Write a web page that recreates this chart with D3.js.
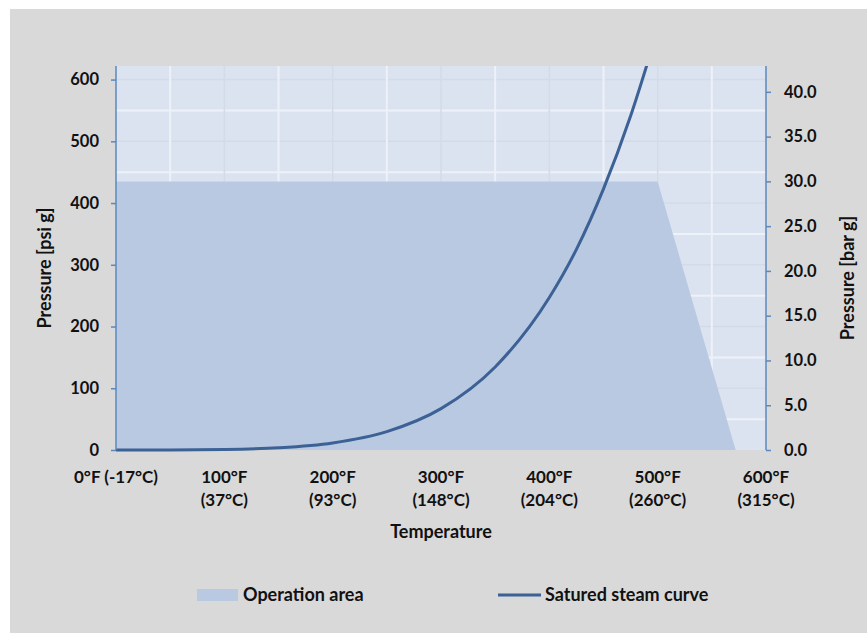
<!DOCTYPE html>
<html>
<head>
<meta charset="utf-8">
<script src="https://cdn.jsdelivr.net/npm/d3@7"></script>
<style>
  html, body { margin: 0; padding: 0; background: #fff; }
  text { font-family: Lato, "Open Sans", sans-serif; font-weight: bold; fill: #111; }
</style>
</head>
<body>
<svg id="chart" width="867" height="633"></svg>
<script>
(function () {
  // saturated steam curve
  const steamTempF = [0, 50, 100, 150, 200, 250, 300, 350, 400, 425, 450, 475, 500];
  const steamPsi = [0, 0.2, 0.95, 3.7, 11.5, 29.8, 67, 134.5, 247, 325, 423, 541, 681];

  // operation area outline
  const opTempF = [0, 0, 500, 572];
  const opPsi = [0, 435, 435, 0];

  const xTicks = [0, 100, 200, 300, 400, 500, 600];
  const xTickLabels = [['0°F (-17°C)'], ['100°F', '(37°C)'], ['200°F', '(93°C)'], ['300°F', '(148°C)'],
    ['400°F', '(204°C)'], ['500°F', '(260°C)'], ['600°F', '(315°C)']];
  const psiTicks = [0, 100, 200, 300, 400, 500, 600];
  const barTicks = [0, 5, 10, 15, 20, 25, 30, 35, 40];

  const plot = { left: 116, right: 766, top: 66, bottom: 450 };
  const psiMax = 622;
  const psiPerBar = 14.5038;

  const svg = d3.select('#chart');

  svg.append('rect')
    .attr('x', 10).attr('y', 9)
    .attr('width', 857).attr('height', 624)
    .attr('fill', '#d9d9d9');

  const xScale = d3.scaleLinear().domain([0, 600]).range([plot.left, plot.right]);
  const yPsi = d3.scaleLinear().domain([0, psiMax]).range([plot.bottom, plot.top]);
  const yBar = d3.scaleLinear().domain([0, psiMax / psiPerBar]).range([plot.bottom, plot.top]);

  svg.append('defs').append('clipPath').attr('id', 'plotclip')
    .append('rect')
    .attr('x', plot.left).attr('y', plot.top)
    .attr('width', plot.right - plot.left).attr('height', plot.bottom - plot.top + 3);

  // plot background
  svg.append('rect')
    .attr('x', plot.left).attr('y', plot.top)
    .attr('width', plot.right - plot.left).attr('height', plot.bottom - plot.top)
    .attr('fill', '#dce3f0');

  const grid = svg.append('g');
  const psiMinor = d3.range(50, psiMax, 100);
  const psiMajor = d3.range(100, psiMax, 100);
  const tMinor = d3.range(50, 600, 100);
  const tMajor = d3.range(100, 600, 100);

  grid.selectAll('.hminor').data(psiMinor).enter().append('line')
    .attr('x1', plot.left).attr('x2', plot.right)
    .attr('y1', d => yPsi(d)).attr('y2', d => yPsi(d))
    .attr('stroke', '#edf1f8').attr('stroke-width', 2);
  grid.selectAll('.hmajor').data(psiMajor).enter().append('line')
    .attr('x1', plot.left).attr('x2', plot.right)
    .attr('y1', d => yPsi(d)).attr('y2', d => yPsi(d))
    .attr('stroke', '#d4dbe8').attr('stroke-width', 1.5);
  grid.selectAll('.vminor').data(tMinor).enter().append('line')
    .attr('y1', plot.top).attr('y2', plot.bottom)
    .attr('x1', d => xScale(d)).attr('x2', d => xScale(d))
    .attr('stroke', '#edf1f8').attr('stroke-width', 2);
  grid.selectAll('.vmajor').data(tMajor).enter().append('line')
    .attr('y1', plot.top).attr('y2', plot.bottom)
    .attr('x1', d => xScale(d)).attr('x2', d => xScale(d))
    .attr('stroke', '#d4dbe8').attr('stroke-width', 1.5);

  // operation area
  const opPoints = opTempF.map((t, i) => [xScale(t), yPsi(opPsi[i])]);
  svg.append('path')
    .attr('d', d3.line()(opPoints) + 'Z')
    .attr('fill', '#bac9e2');

  // steam curve
  const steamLine = d3.line()
    .x(d => xScale(d[0]))
    .y(d => yPsi(d[1]))
    .curve(d3.curveMonotoneX);
  svg.append('path')
    .datum(steamTempF.map((t, i) => [t, steamPsi[i]]))
    .attr('clip-path', 'url(#plotclip)')
    .attr('d', steamLine)
    .attr('fill', 'none')
    .attr('stroke', '#3b6195')
    .attr('stroke-width', 3);

  // axes
  const yAxisL = d3.axisLeft(yPsi).tickValues(psiTicks).tickSize(5).tickPadding(12);
  const gL = svg.append('g').attr('transform', `translate(${plot.left},0)`).call(yAxisL);
  gL.select('.domain').attr('d', `M0,${plot.top}V${plot.bottom}`);

  const yAxisR = d3.axisRight(yBar).tickValues(barTicks).tickSize(5).tickPadding(13)
    .tickFormat(d3.format('.1f'));
  const gR = svg.append('g').attr('transform', `translate(${plot.right},0)`).call(yAxisR);
  gR.select('.domain').attr('d', `M0,${plot.top}V${plot.bottom}`);

  [gL, gR].forEach(g => {
    g.select('.domain').attr('stroke', '#5b88bd').attr('stroke-width', 1.5);
    g.selectAll('.tick line').attr('stroke', '#5b88bd').attr('stroke-width', 1.5);
    g.selectAll('.tick text')
      .attr('font-family', 'Lato, sans-serif')
      .attr('font-weight', 'bold')
      .attr('font-size', 16.5)
      .attr('fill', '#111');
  });

  // x tick labels
  const xl = svg.append('g');
  xTicks.forEach((t, i) => {
    const txt = xl.append('text')
      .attr('x', xScale(t))
      .attr('y', 483)
      .attr('text-anchor', 'middle')
      .attr('font-size', 17);
    xTickLabels[i].forEach((s, j) => {
      txt.append('tspan').attr('x', xScale(t)).attr('dy', j === 0 ? 0 : 23).text(s);
    });
  });

  // titles
  svg.append('text')
    .attr('x', (plot.left + plot.right) / 2)
    .attr('y', 538)
    .attr('text-anchor', 'middle')
    .attr('font-size', 18)
    .text('Temperature');

  svg.append('text')
    .attr('transform', 'translate(51,268) rotate(-90)')
    .attr('text-anchor', 'middle')
    .attr('font-size', 18)
    .text('Pressure [psi g]');

  svg.append('text')
    .attr('transform', 'translate(854,278) rotate(-90)')
    .attr('text-anchor', 'middle')
    .attr('font-size', 18)
    .text('Pressure [bar g]');

  // legend
  const legend = svg.append('g');
  legend.append('rect')
    .attr('x', 197).attr('y', 589).attr('width', 41).attr('height', 12)
    .attr('fill', '#bac9e2');
  legend.append('text')
    .attr('x', 243).attr('y', 601)
    .attr('font-size', 18)
    .text('Operation area');
  legend.append('line')
    .attr('x1', 498).attr('x2', 541).attr('y1', 595).attr('y2', 595)
    .attr('stroke', '#3b6195').attr('stroke-width', 3);
  legend.append('text')
    .attr('x', 545).attr('y', 601)
    .attr('font-size', 18)
    .text('Satured steam curve');
})();
</script>
</body>
</html>
